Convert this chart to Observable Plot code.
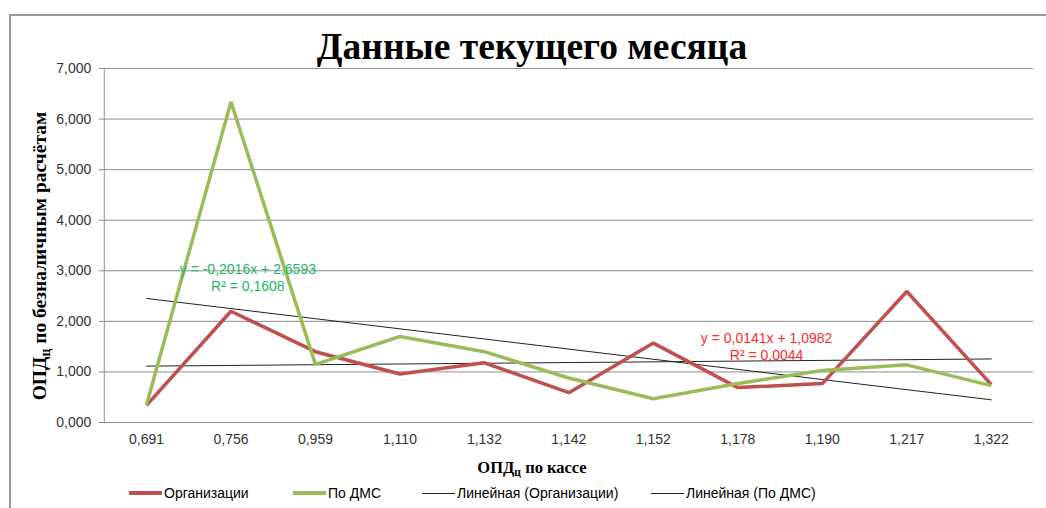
<!DOCTYPE html>
<html><head><meta charset="utf-8">
<script src="https://cdn.jsdelivr.net/npm/d3@7"></script>
<script src="https://cdn.jsdelivr.net/npm/@observablehq/plot@0.6"></script>
<style>
html,body{margin:0;padding:0;background:#fff;}
#wrap{position:relative;width:1046px;height:508px;overflow:hidden;}
#frame{position:absolute;left:9px;top:14px;width:1100px;height:600px;border-left:2px solid #9a9a9a;border-top:2px solid #9a9a9a;}
#title{position:absolute;left:0;width:1064px;top:28px;text-align:center;font:bold 37.5px "Liberation Serif","DejaVu Serif",serif;line-height:1;color:#000;}
#ylab{position:absolute;left:40px;top:256px;transform:translate(-50%,-50%) rotate(-90deg);white-space:nowrap;font:bold 19.5px "Liberation Serif",serif;color:#000;}
#xlab{position:absolute;left:532px;top:458px;transform:translateX(-50%);white-space:nowrap;font:bold 16.5px "Liberation Serif",serif;color:#000;}
sub{font-size:0.7em;vertical-align:-0.3em;line-height:0;}
#legend{position:absolute;left:0;top:485px;width:1046px;height:20px;font:14px "Liberation Sans",sans-serif;color:#000;}
.li{position:absolute;display:flex;align-items:center;white-space:nowrap;}
.sw{display:inline-block;width:33px;margin-right:2px;}
svg{position:absolute;left:0;top:0;}
</style></head>
<body><div id="wrap">
<div id="frame"></div>
<div id="plot"></div>
<div id="title">Данные текущего месяца</div>
<div id="ylab">ОПД<sub>ц</sub> по безналичным расчётам</div>
<div id="xlab">ОПД<sub>ц</sub> по кассе</div>
<div id="legend"></div>
</div>
<script>
// categories (x axis tick labels)
const xLabels = ["0,691","0,756","0,959","1,110","1,132","1,142","1,152","1,178","1,190","1,217","1,322"];
// series values
const orgValues = [0.34, 2.20, 1.40, 0.96, 1.18, 0.59, 1.57, 0.69, 0.77, 2.59, 0.75];
const dmsValues = [0.35, 6.34, 1.15, 1.70, 1.40, 0.88, 0.47, 0.77, 1.03, 1.14, 0.73];
// y ticks
const yTicks = [0, 1, 2, 3, 4, 5, 6, 7];
// series names
const seriesNames = ["Организации", "По ДМС"];
const trendNames = ["Линейная (Организации)", "Линейная (По ДМС)"];
// trendline equation labels
const eqTexts = ["y = 0,0141x + 1,0982\nR² = 0,0044", "y = -0,2016x + 2,6593\nR² = 0,1608"];
const eqAnchorX = [8.34, 2.2];
const eqAnchorY = [1.51, 2.88];

const colors = ["#C0504D", "#9BBB59"];
const eqColors = ["#ff2b2b", "#1fb860"];

const rows = [];
xLabels.forEach((lab, i) => {
  rows.push({i: i + 1, v: orgValues[i], s: seriesNames[0]});
  rows.push({i: i + 1, v: dmsValues[i], s: seriesNames[1]});
});
const eqRows = eqTexts.map((t, k) => ({t, x: eqAnchorX[k], y: eqAnchorY[k], c: eqColors[k]}));
const n = xLabels.length;
const fmtY = d => d.toFixed(3).replace(".", ",");

const chart = Plot.plot({
  width: 1046, height: 508,
  marginLeft: 103.75, marginRight: 13, marginTop: 68, marginBottom: 86,
  style: {fontFamily: "Liberation Sans, sans-serif", fontSize: "14px", background: "transparent", overflow: "visible"},
  x: {domain: [0.5, n + 0.5], ticks: xLabels.map((_, i) => i + 1), tickFormat: d => xLabels[d - 1], tickSize: 0, tickPadding: 12, label: null},
  y: {domain: [0, 7], ticks: yTicks, tickFormat: fmtY, tickSize: 5, tickPadding: 8, label: null},
  color: {domain: seriesNames, range: colors},
  marks: [
    Plot.gridY(yTicks, {stroke: "#8c8c8c", strokeOpacity: 1, strokeWidth: 1}),
    Plot.ruleX([0.5], {stroke: "#8c8c8c"}),
    Plot.axisY(yTicks, {tickFormat: fmtY, tickSize: 5, tickPadding: 8, stroke: "#8c8c8c", fill: "#333", label: null}),
    Plot.axisX(xLabels.map((_, i) => i + 1), {tickFormat: d => xLabels[d - 1], tickSize: 0, tickPadding: 12, fill: "#333", label: null}),
    Plot.linearRegressionY(rows.filter(r => r.s === seriesNames[0]), {x: "i", y: "v", stroke: "#222", strokeWidth: 1, ci: 0}),
    Plot.linearRegressionY(rows.filter(r => r.s === seriesNames[1]), {x: "i", y: "v", stroke: "#222", strokeWidth: 1, ci: 0}),
    Plot.line(rows, {x: "i", y: "v", z: "s", stroke: "s", strokeWidth: 3.5, strokeLinejoin: "miter", strokeLinecap: "butt"}),
    Plot.text(eqRows, {x: "x", y: "y", text: "t", fill: "c", fontSize: 14, lineHeight: 1.2, fontFamily: "Liberation Sans Narrow, Liberation Sans, sans-serif"})
  ]
});
document.getElementById("plot").appendChild(chart);

// legend
const leg = document.getElementById("legend");
const items = [
  {name: seriesNames[0], color: colors[0], w: 4, left: 129},
  {name: seriesNames[1], color: colors[1], w: 4, left: 293},
  {name: trendNames[0], color: "#222", w: 1, left: 422},
  {name: trendNames[1], color: "#222", w: 1, left: 651}
];
items.forEach(it => {
  const d = document.createElement("div");
  d.className = "li";
  d.style.left = it.left + "px";
  d.innerHTML = `<span class="sw" style="height:${it.w}px;background:${it.color}"></span><span>${it.name}</span>`;
  leg.appendChild(d);
});
</script>
</body></html>
